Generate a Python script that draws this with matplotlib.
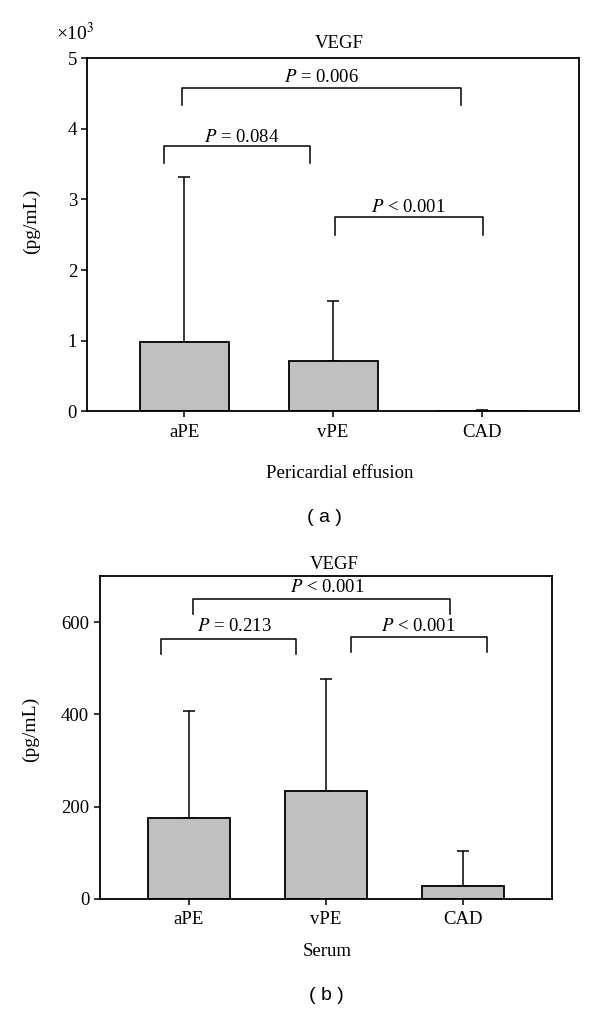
import matplotlib
matplotlib.use('Agg')
import matplotlib.pyplot as plt
import numpy as np

plt.rcParams['font.family'] = ['Liberation Serif', 'DejaVu Serif']
plt.rcParams['mathtext.fontset'] = 'stix'

categories = ['aPE', 'vPE', 'CAD']

# panel (a): pericardial effusion, in units of 10^3 pg/mL
pe_mean = [0.98, 0.714, 0.004]
pe_err = [2.33, 0.846, 0.014]
pe_ticks = [0, 1, 2, 3, 4, 5]
pe_brackets = [(-0.015, 1.86, 4.57, 4.33), (-0.136, 0.844, 3.755, 3.51), (1.015, 2.005, 2.747, 2.50)]
pe_ptext = [(0.923, 4.73, '$P$ = 0.006'), (0.386, 3.88, '$P$ = 0.084'), (1.507, 2.89, '$P$ < 0.001')]

# panel (b): serum, pg/mL
se_mean = [175, 235, 29]
se_err = [232, 241, 76]
se_ticks = [0, 200, 400, 600]
se_brackets = [(0.032, 1.905, 651, 617), (-0.204, 0.785, 564, 530), (1.184, 2.175, 567, 535)]
se_ptext = [(1.007, 676, '$P$ < 0.001'), (0.333, 591, '$P$ = 0.213'), (1.674, 591, '$P$ < 0.001')]

fig = plt.figure(figsize=(6, 10.11), dpi=100)
axA = fig.add_axes([0.1458, 0.593, 0.819, 0.3496])
axB = fig.add_axes([0.166, 0.1108, 0.754, 0.3195])


def drawPanel(ax, mean, err, ticks, ylim, brackets, ptext):
    x = np.arange(len(categories))
    ax.bar(x, mean, width=0.6, color='#c0c0c0', edgecolor='black', linewidth=1.3, zorder=2)
    ax.errorbar(x, mean, yerr=[np.zeros(len(err)), err], fmt='none', ecolor='black',
                elinewidth=1.1, capsize=4, capthick=1.1, zorder=1)
    # significance brackets
    for x0, x1, top, bottom in brackets:
        ax.plot([x0, x0, x1, x1], [bottom, top, top, bottom], color='black', linewidth=1.1,
                clip_on=False)
    for px, py, label in ptext:
        ax.text(px, py, label, ha='center', va='center', fontsize=13.5)
    ax.set_xlim(-0.65, 2.65)
    ax.set_ylim(*ylim)
    ax.set_xticks(x)
    ax.set_xticklabels(categories)
    ax.set_yticks(ticks)
    ax.tick_params(axis='both', direction='out', length=4, width=1.1, labelsize=13.5, top=False, right=False)
    ax.tick_params(axis='x', pad=5)
    for spine in ax.spines.values():
        spine.set_linewidth(1.3)
    ax.set_ylabel('(pg/mL)', fontsize=14)


drawPanel(axA, pe_mean, pe_err, pe_ticks, (0, 5), pe_brackets, pe_ptext)
drawPanel(axB, se_mean, se_err, se_ticks, (0, 700), se_brackets, se_ptext)

axA.yaxis.set_label_coords(-0.0966, 0.539)
axB.yaxis.set_label_coords(-0.134, 0.526)

axA.text(0.5117, 1.0424, 'VEGF', transform=axA.transAxes, ha='center', va='center', fontsize=13.5)
axB.text(0.518, 1.037, 'VEGF', transform=axB.transAxes, ha='center', va='center', fontsize=13.5)
axA.text(-0.025, 1.071, '×10$^3$', transform=axA.transAxes, ha='center', va='center', fontsize=14)

fig.text(340 / 600, 1 - 473 / 1011, 'Pericardial effusion', ha='center', va='center', fontsize=13.5)
fig.text(327 / 600, 1 - 951 / 1011, 'Serum', ha='center', va='center', fontsize=13.5)
fig.text(324 / 600, 1 - 518 / 1011, '( a )', ha='center', va='center', fontsize=14,
         family=['Liberation Sans', 'DejaVu Sans'])
fig.text(326 / 600, 1 - 995 / 1011, '( b )', ha='center', va='center', fontsize=14,
         family=['Liberation Sans', 'DejaVu Sans'])

fig.savefig('out.png', dpi=100)
